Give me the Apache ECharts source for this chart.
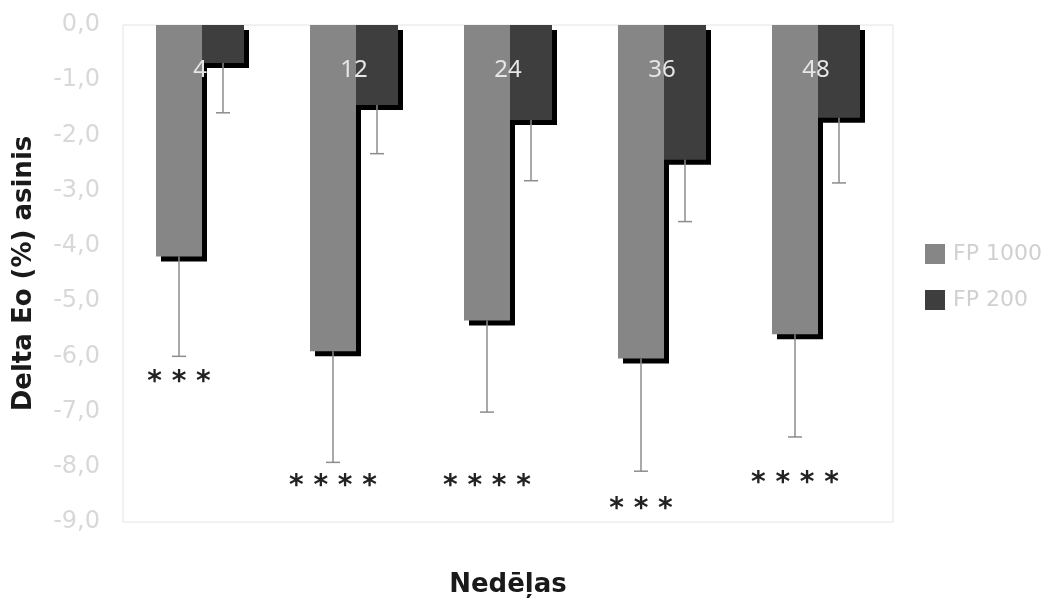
<!DOCTYPE html>
<html>
<head>
<meta charset="utf-8">
<script src="https://cdn.jsdelivr.net/npm/echarts@6/dist/echarts.min.js"></script>
<style>
html,body{margin:0;padding:0;background:#fff;}
#chart{width:1057px;height:603px;}
</style>
</head>
<body>
<div id="chart"></div>
<script>
// ---- data ----
var weeks = ['4', '12', '24', '36', '48'];
var seriesNames = ['FP 1000', 'FP 200'];
var fp1000 = [-4.19, -5.91, -5.35, -6.04, -5.60];
var fp200 = [-0.69, -1.45, -1.72, -2.44, -1.68];
var fp1000Err = [1.81, 2.01, 1.66, 2.04, 1.86];
var fp200Err = [0.90, 0.88, 1.10, 1.12, 1.18];
var sigLabels = ['* * *', '* * * *', '* * * *', '* * *', '* * * *'];
var sigLevel = [-6.47, -8.37, -8.37, -8.77, -8.31];
var yTicks = { min: -9, max: 0, step: 1 };

// ---- rendering ----
var W1 = 46, W2 = 42;
var off1 = -(W1 + W2) / 2 + W1 / 2;
var off2 = -(W1 + W2) / 2 + W1 + W2 / 2;

function errData(vals, errs) {
  return vals.map(function (v, i) { return [i, v, v - errs[i]]; });
}
function errRender(offset) {
  return function (params, api) {
    var i = api.value(0);
    var a = api.coord([i, api.value(1)]);
    var b = api.coord([i, api.value(2)]);
    var x = a[0] + offset;
    var cap = 7;
    var st = { stroke: '#8c8c8c', lineWidth: 1.5, fill: null };
    return {
      type: 'group',
      children: [
        { type: 'line', shape: { x1: x, y1: a[1], x2: x, y2: b[1] }, style: st },
        { type: 'line', shape: { x1: x - cap, y1: b[1], x2: x + cap, y2: b[1] }, style: st }
      ]
    };
  };
}

var chart = echarts.init(document.getElementById('chart'), null, { renderer: 'canvas' });
var barShadow = { shadowColor: '#000', shadowBlur: 0, shadowOffsetX: 5, shadowOffsetY: 5 };

chart.setOption({
  animation: false,
  backgroundColor: '#ffffff',
  grid: { left: 123, right: 164, top: 25, bottom: 80, show: true, borderColor: '#e4e4e4', borderWidth: 1 },
  legend: {
    orient: 'vertical', left: 920, top: 238,
    data: seriesNames,
    icon: 'rect', itemWidth: 20, itemHeight: 20, itemGap: 24,
    itemStyle: { shadowColor: 'rgba(0,0,0,0)', shadowOffsetX: 0, shadowOffsetY: 0 },
    textStyle: { color: '#d0d0d0', fontSize: 22, fontFamily: 'DejaVu Sans', padding: [0, 0, 0, 3] }
  },
  xAxis: [
    {
      type: 'category', data: weeks, position: 'bottom',
      axisLine: { show: false }, axisTick: { show: false }, axisLabel: { show: false },
      name: 'Nedēļas', nameLocation: 'middle', nameGap: 50,
      nameTextStyle: { fontFamily: 'DejaVu Sans', fontWeight: 'bold', fontSize: 26, color: '#1a1a1a' }
    },
    {
      type: 'category', data: weeks, position: 'top', z: 10,
      axisLine: { show: false }, axisTick: { show: false },
      axisLabel: { inside: true, margin: 33, color: '#e6e6e6', fontSize: 24, fontFamily: 'Noto Sans' }
    }
  ],
  yAxis: {
    type: 'value', min: yTicks.min, max: yTicks.max, interval: yTicks.step,
    axisLine: { show: false }, axisTick: { show: false }, splitLine: { show: false },
    axisLabel: {
      margin: 23, color: '#d8d8d8', fontSize: 24, fontFamily: 'DejaVu Sans',
      formatter: function (v) { return v.toFixed(1).replace('.', ','); }
    },
    name: 'Delta Eo (%) asinis', nameLocation: 'middle', nameRotate: 90, nameGap: 86,
    nameTextStyle: { fontFamily: 'DejaVu Sans', fontWeight: 'bold', fontSize: 26, color: '#1a1a1a' }
  },
  series: [
    {
      name: seriesNames[0], type: 'bar', data: fp1000, barWidth: W1, barGap: '0%',
      itemStyle: Object.assign({ color: '#868686' }, barShadow), z: 2
    },
    {
      name: seriesNames[1], type: 'bar', data: fp200, barWidth: W2, barGap: '0%',
      itemStyle: Object.assign({ color: '#3e3e3e' }, barShadow), z: 3
    },
    {
      type: 'custom', data: errData(fp1000, fp1000Err), renderItem: errRender(off1), z: 4, silent: true
    },
    {
      type: 'custom', data: errData(fp200, fp200Err), renderItem: errRender(off2), z: 4, silent: true
    },
    {
      type: 'custom', z: 5, silent: true,
      data: sigLevel.map(function (v, i) { return [i, v]; }),
      renderItem: function (params, api) {
        var i = api.value(0);
        var p = api.coord([i, api.value(1)]);
        return {
          type: 'text',
          style: {
            text: sigLabels[i], x: p[0] + off1, y: p[1],
            align: 'center', verticalAlign: 'middle',
            fill: '#222', fontSize: 28, fontFamily: 'DejaVu Sans', fontWeight: 'bold'
          }
        };
      }
    }
  ]
});
</script>
</body>
</html>
